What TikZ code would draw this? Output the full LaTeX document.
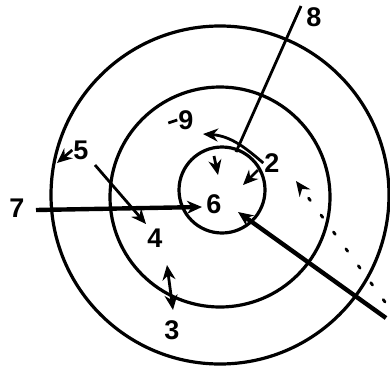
\documentclass[tikz,border=0pt]{standalone}
\usepackage{fontspec}
\setmainfont{Liberation Sans}
\usetikzlibrary{arrows.meta, positioning, calc}

\tikzset{
    ring/.style={draw, line width=3.2pt},
    lead/.style={line width=2.8pt},
    heavy/.style={line width=4.4pt},
    num/.style={font=\fontsize{27}{27}\selectfont\bfseries, inner sep=1pt}
}

\begin{document}
\begin{tikzpicture}[x=1pt, y=-1pt, >={Stealth[length=15pt, width=13pt]}]
    \useasboundingbox (0,0) rectangle (390,370);
    % rings
    \draw[ring] (220,195) circle (169);
    \draw[ring] (220,197) circle (110);
    \draw[ring] (222,190) circle (43);

    % labels
    \node[num] (l8) at (314,17) {8};
    \node[num] (l7) at (17,208) {7};
    \node[num] (l6) at (214,204) {6};
    \node[num] (l5) at (81,150) {5};
    \node[num] (l4) at (155,238) {4};
    \node[num] (l3) at (172,330) {3};
    \node[num] (l9) at (186,120) {9};
    \node[num] (l2) at (272,163) {2};

    % anchor points
    \coordinate (top8) at (301,6);
    \coordinate (hub) at (236,152);
    \coordinate (lowR) at (386,318);
    \coordinate (hubR) at (238,212);
    \coordinate (left7) at (36,210);
    \coordinate (hubL) at (202,207);
    \coordinate (rim5) at (57,163);
    \coordinate (start4) at (95,165);
    \coordinate (tip4) at (146,224);
    \coordinate (up3) at (167,265);
    \coordinate (down3) at (173,310);
    \coordinate (dotR) at (385,302);
    \coordinate (tipK) at (296,181);
    \coordinate (tip2) at (203,134);

    \draw[lead] (top8) -- (hub);
    \draw[->, heavy] (lowR) -- (hubR);
    \draw[->, heavy] (left7) -- (hubL);
    \draw[->, lead] (l5.west) -- (rim5);
    \draw[->, lead] (start4) -- (tip4);
    \draw[<->, lead] (up3) -- (down3);
    \draw[->, lead, line cap=round, dash pattern=on 3pt off 18pt] (dotR) -- (tipK);
    \draw[->, lead] (l2.west) .. controls (248,150) and (232,136) .. (tip2);
    \draw[->, lead] (214,156) -- (218,175);
    \draw[->, lead] (258,170) -- (243,185);
    \draw[lead] (l9.west) -- +(-9,3);
\end{tikzpicture}
\end{document}
